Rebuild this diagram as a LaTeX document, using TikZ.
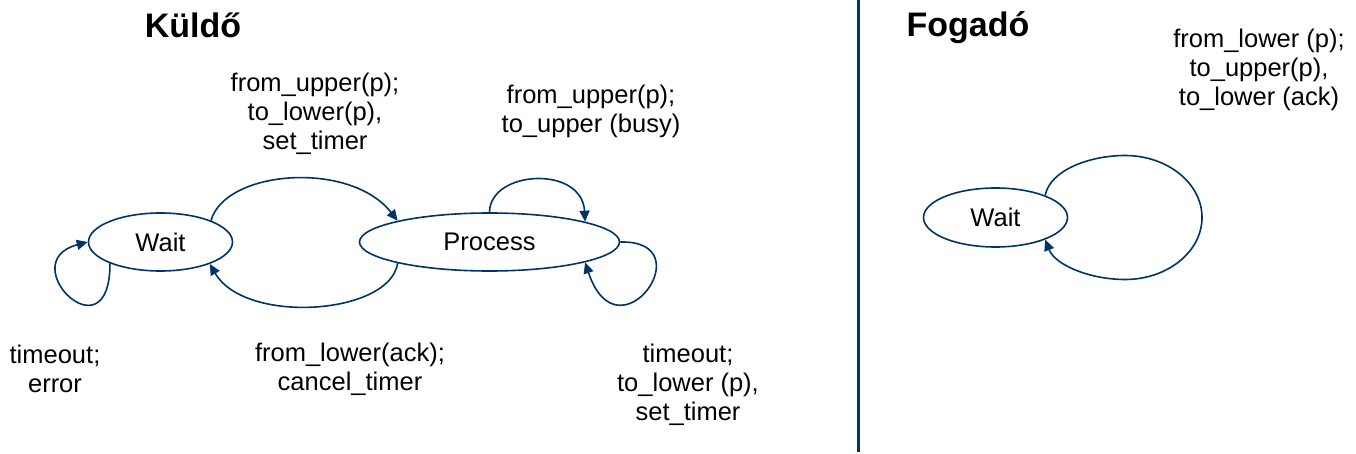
\documentclass[tikz,border=0pt]{standalone}
\usepackage{fontspec}
\setmainfont{Liberation Sans}
\usetikzlibrary{arrows.meta,shapes.geometric}
\definecolor{navy}{HTML}{003366}
\begin{document}
\begin{tikzpicture}[x=1pt,y=-1pt,
  state/.style={ellipse,draw=navy,line width=1.6pt,inner sep=0pt,font=\fontsize{25.5}{29}\selectfont},
  edge/.style={draw=navy,line width=1.6pt,-{Triangle[length=11pt,width=10pt]}},
  lbl/.style={align=center,anchor=base,inner sep=0pt,font=\fontsize{25.5}{29}\selectfont},
  title/.style={anchor=base,inner sep=0pt,font=\bfseries\fontsize{34}{40}\selectfont}]
\useasboundingbox (0,0) rectangle (1356,454);
% states
\node[state,minimum width=144pt,minimum height=58pt] (w) at (160.5,242) {Wait};
\node[state,minimum width=260pt,minimum height=58pt] (p) at (489.5,242) {Process};
\node[state,minimum width=144pt,minimum height=59pt] (r) at (995.5,217.5) {Wait};
% titles
\node[title] (t1) at (193,38) {Küldő};
\node[title] (t2) at (968,37) {Fogadó};
% separator
\coordinate (sepa) at (858,0);
\coordinate (sepb) at (858,452);
\draw[navy,line width=3pt] (sepa) -- (sepb);
% edges
\draw[edge] (w.23) .. controls (225,170) and (350,160) .. (p.167.3);
\draw[edge] (p.-167.3) .. controls (390,315) and (245,325) .. (w.-24);
\draw[edge] (p.90) .. controls (490,170) and (582,165) .. (p.12.7);
\draw[edge] (p.0) .. controls (705,240) and (618,362) .. (p.-12.7);
\draw[edge] (w.-157) .. controls (110,360) and (12,262) .. (w.180);
\draw[edge] (r.24) .. controls (1050,170) and (1090,155.5) .. (1125,155.5)
  .. controls (1167.5,155.5) and (1202,183.3) .. (1202,217.5)
  .. controls (1202,251.7) and (1167.5,279.5) .. (1125,279.5)
  .. controls (1090,279.5) and (1055,265) .. (r.-24);
% labels (anchor = baseline of last line)
\node[lbl] (l1) at (315,150) {from\_upper(p);\\to\_lower(p),\\set\_timer};
\node[lbl] (l2) at (591,133) {from\_upper(p);\\to\_upper (busy)};
\node[lbl] (l3) at (55,392) {timeout;\\error};
\node[lbl] (l4) at (350,390) {from\_lower(ack);\\cancel\_timer};
\node[lbl] (l5) at (688,420) {timeout;\\to\_lower (p),\\set\_timer};
\node[lbl] (l6) at (1259,106) {from\_lower (p);\\to\_upper(p),\\to\_lower (ack)};
\end{tikzpicture}
\end{document}
